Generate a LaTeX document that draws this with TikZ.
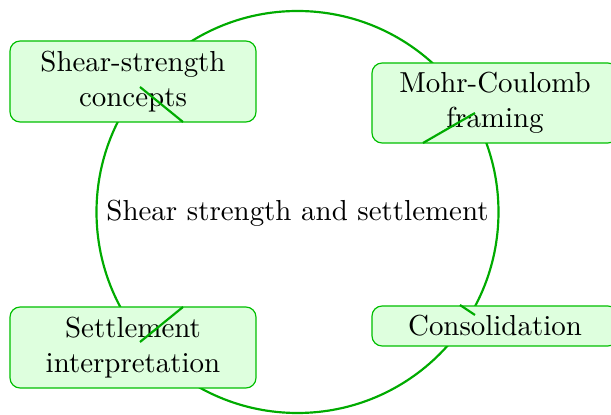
\documentclass[tikz,border=0pt]{standalone}
\begin{document}
\begin{tikzpicture}[x=0.3457pt,y=-0.3457pt,
  ring/.style={draw=green!67!black, line width=0.75pt},
  tick/.style={draw=green!67!black, line width=0.75pt},
  stage/.style={draw=green!75!black, fill=green!13, line width=0.4pt, rounded corners=3.5pt, align=center, inner sep=0pt}]
\useasboundingbox (0,0) rectangle (611,415);
\node[draw=none, minimum size=402*0.3457pt, circle, ring] (ring) at (297.5,212) {};
\node (center) at (297.5,213) {Shear strength and settlement};
\node[stage, minimum width=246*0.3457pt, minimum height=81*0.3457pt] (a) at (133,81.5) {Shear-strength\\concepts};
\node[stage, minimum width=246*0.3457pt, minimum height=80*0.3457pt] (b) at (495,103) {Mohr-Coulomb\\framing};
\node[stage, minimum width=246*0.3457pt, minimum height=81*0.3457pt] (c) at (133,347.5) {Settlement\\interpretation};
\node[stage, minimum width=246*0.3457pt, minimum height=40*0.3457pt] (d) at (495,326) {Consolidation};
\coordinate (a1) at (140,87); \coordinate (a2) at (183,122);
\coordinate (b1) at (423,143); \coordinate (b2) at (475,113);
\coordinate (c1) at (140,342); \coordinate (c2) at (183,307);
\coordinate (d1) at (460,305); \coordinate (d2) at (475,315);
\draw[tick] (a1) -- (a2);
\draw[tick] (b1) -- (b2);
\draw[tick] (c1) -- (c2);
\draw[tick] (d1) -- (d2);
\end{tikzpicture}
\end{document}
